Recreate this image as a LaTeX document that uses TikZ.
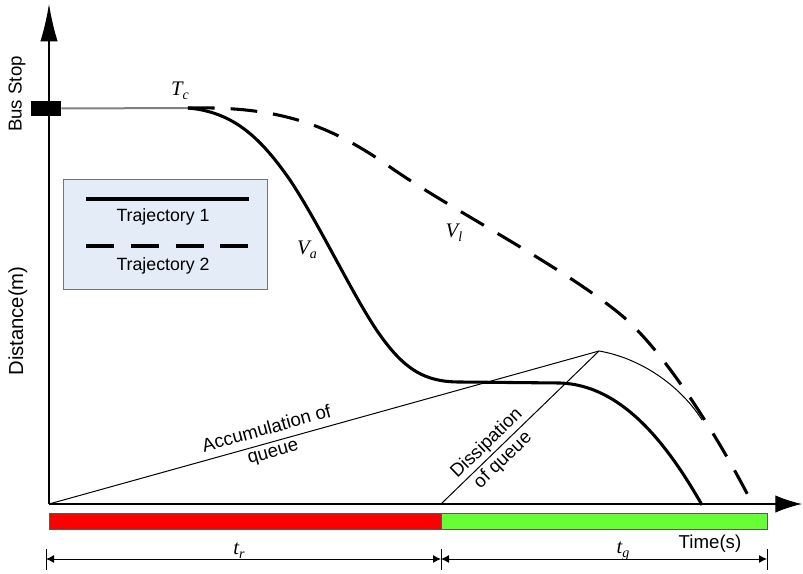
\documentclass[tikz,border=0pt]{standalone}
\usepackage{fontspec}
\setmainfont{Liberation Sans}
\newfontfamily\tnrfont{Liberation Serif}
\usetikzlibrary{arrows.meta}
\definecolor{legfill}{RGB}{228,236,247}
\definecolor{barred}{RGB}{255,0,0}
\definecolor{bargreen}{RGB}{102,255,51}
\newcommand\ilab[2]{{\tnrfont\itshape #1\raisebox{-0.4ex}{\fontsize{10.5}{11}\selectfont #2}}}
\tikzset{
  lbl/.style={inner sep=0pt, font=\fontsize{14}{16.5}\selectfont},
  slant/.style={inner sep=0pt, align=center, font=\fontsize{14}{17.5}\selectfont},
  ital/.style={inner sep=0pt, font=\fontsize{15.5}{17}\selectfont},
  thinln/.style={line width=0.75pt, black},
  traj/.style={line width=2.3pt, black},
  trajdash/.style={line width=2.3pt, black, dash pattern=on 20pt off 12pt},
  axis/.style={line width=0.8pt, black},
  dimarrow/.style={line width=0.75pt, {Latex[length=6pt,width=6pt]}-{Latex[length=6pt,width=6pt]}},
  bar/.style={draw=black!65, line width=0.75pt},
}
\begin{document}
\begin{tikzpicture}[x=0.75pt,y=-0.75pt]
\useasboundingbox (0,0) rectangle (803,574);
% key points
\coordinate (O) at (49,504);
\coordinate (ytip) at (49,4);
\coordinate (xtip) at (802,504);
\coordinate (Tc) at (188,108);
\coordinate (peak) at (599,351);
\coordinate (G) at (441,504);
% bars
\node[bar, fill=barred, minimum width=392*0.75pt, minimum height=16*0.75pt, inner sep=0pt, anchor=north west] (redbar) at (49,513) {};
\node[bar, fill=bargreen, minimum width=326*0.75pt, minimum height=16*0.75pt, inner sep=0pt, anchor=north west] (greenbar) at (441,513) {};
% axes
\draw[axis, -{Latex[length=28pt,width=13pt]}] (O) -- (ytip);
\draw[axis, -{Latex[length=20pt,width=13pt]}] (O) -- (xtip);
% bus stop
\node[fill=black, minimum width=30*0.75pt, minimum height=15*0.75pt, inner sep=0pt] (bus) at (46,108.5) {};
\draw[line width=1.5pt, black!50] (bus.east) -- (Tc);
% queue lines
\draw[thinln] (O) -- (peak);
\draw[thinln] (G) -- (peak);
\draw[thinln] (peak) .. controls (640,358) and (680,385) .. (702,420);
% trajectories
\draw[traj] (Tc) .. controls (235,112) and (262,140) .. (290,180)
  .. controls (320,225) and (355,300) .. (380,335)
  .. controls (405,370) and (425,382) .. (460,382)
  -- (560,383) .. controls (620,385) and (665,440) .. (702,505);
\draw[trajdash] (Tc) .. controls (280,106) and (330,125) .. (390,167)
  .. controls (450,209) and (560,265) .. (620,314)
  .. controls (665,351) and (720,440) .. (753,505);
% legend
\node[draw=black!55, fill=legfill, line width=0.75pt, minimum width=204*0.75pt, minimum height=110*0.75pt, inner sep=0pt, anchor=north west] (legend) at (63,179) {};
\coordinate (l1a) at (86,199);
\coordinate (l1b) at (249,199);
\coordinate (l2a) at (86,246);
\coordinate (l2b) at (249,246);
\draw[traj] (l1a) -- (l1b);
\draw[trajdash, dash pattern=on 21pt off 12.6pt] (l2a) -- (l2b);
\node[lbl, font=\fontsize{13.3}{15}\selectfont] (tr1) at (163,217) {Trajectory 1};
\node[lbl, font=\fontsize{13.3}{15}\selectfont] (tr2) at (163,266) {Trajectory 2};
% axis labels
\node[lbl, rotate=90] (busstop) at (17,94) {Bus Stop};
\node[lbl, rotate=90, font=\fontsize{15.2}{17}\selectfont] (dist) at (18,321) {Distance(m)};
\node[lbl] (time) at (710,544) {Time(s)};
% italic labels
\node[ital] (tcl) at (180,91) {\ilab{T}{c}};
\node[ital] (val) at (307,250) {\ilab{V}{a}};
\node[ital] (vll) at (454,233) {\ilab{V}{l}};
\node[ital] (trl) at (239,551) {\ilab{t}{r}};
\node[ital] (tgl) at (623,551) {\ilab{t}{g}};
% slanted texts
\node[slant, rotate=15.5] (acc) at (270,441) {Accumulation of\\queue};
\node[slant, rotate=44] (dis) at (495,452) {Dissipation\\of queue};
% dimension lines
\coordinate (d0) at (46,559);
\coordinate (d1) at (441,559);
\coordinate (d2) at (767,559);
\draw[thinln] (46,549) -- (46,570);
\draw[thinln] (441,549) -- (441,570);
\draw[thinln] (767,549) -- (767,570);
\draw[dimarrow] (d0) -- (d1);
\draw[dimarrow] (d1) -- (d2);
\end{tikzpicture}
\end{document}
